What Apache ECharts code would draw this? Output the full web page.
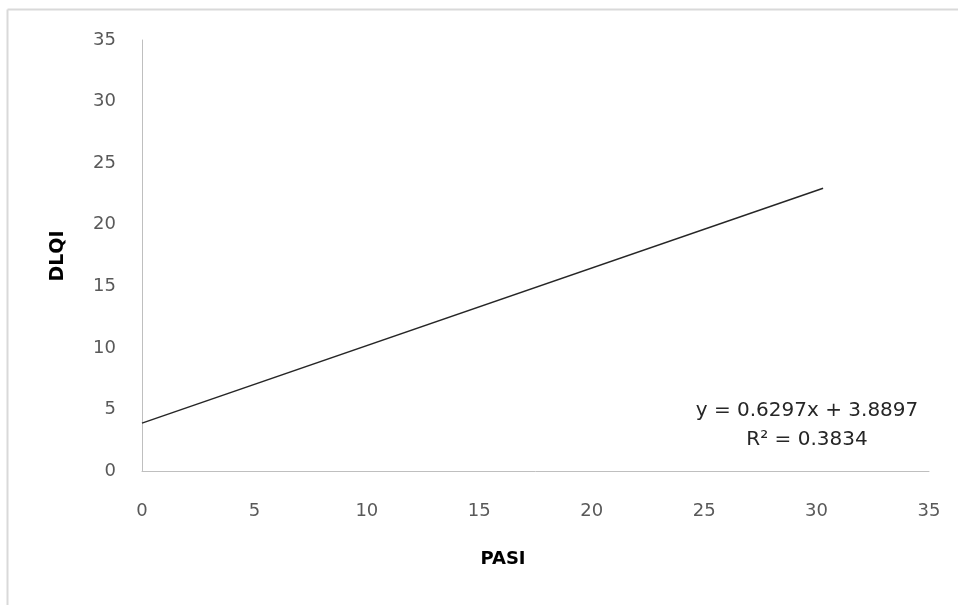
<!DOCTYPE html>
<html>
<head>
<meta charset="utf-8">
<script src="https://cdn.jsdelivr.net/npm/echarts@6/dist/echarts.min.js"></script>
<style>html,body{margin:0;padding:0;background:#fff}#c{width:958px;height:605px}</style>
</head>
<body>
<div id="c"></div>
<script>
const xTicks = [0, 5, 10, 15, 20, 25, 30, 35];
const yTicks = [0, 5, 10, 15, 20, 25, 30, 35];
const lineX = [0, 30.29];
const lineY = [3.8897, 22.96];
const equationText = ['y = 0.6297x + 3.8897', 'R² = 0.3834'];
const xTitle = 'PASI';
const yTitle = 'DLQI';

const font = '"DejaVu Sans", sans-serif';
const chart = echarts.init(document.getElementById('c'), null, {renderer: 'canvas'});
chart.setOption({
  animation: false,
  backgroundColor: '#fff',
  grid: {left: 142, right: 29, top: 40, bottom: 134, containLabel: false},
  xAxis: {
    type: 'value', min: xTicks[0], max: xTicks[xTicks.length - 1], interval: 5,
    axisLine: {show: true, lineStyle: {color: '#bfbfbf', width: 1}},
    axisTick: {show: false},
    splitLine: {show: false},
    axisLabel: {color: '#595959', fontSize: 18, fontFamily: font, margin: 31}
  },
  yAxis: {
    type: 'value', min: yTicks[0], max: yTicks[yTicks.length - 1], interval: 5,
    axisLine: {show: true, lineStyle: {color: '#bfbfbf', width: 1}},
    axisTick: {show: false},
    splitLine: {show: false},
    axisLabel: {color: '#595959', fontSize: 18, fontFamily: font, margin: 26}
  },
  graphic: [
    {type: 'line', shape: {x1: 7.5, y1: 9.5, x2: 958, y2: 9.5}, style: {stroke: '#d9d9d9', lineWidth: 2}, silent: true},
    {type: 'line', shape: {x1: 7.5, y1: 9.5, x2: 7.5, y2: 605}, style: {stroke: '#d9d9d9', lineWidth: 2}, silent: true},
    {type: 'text', x: 503, y: 559, style: {text: xTitle, font: 'bold 18px ' + font, fill: '#000', align: 'center', verticalAlign: 'middle'}},
    {type: 'text', x: 58, y: 256, rotation: Math.PI / 2, style: {text: yTitle, font: 'bold 19px ' + font, fill: '#000', align: 'center', verticalAlign: 'middle'}},
    {type: 'text', x: 807, y: 411, style: {text: equationText[0], font: '20px ' + font, fill: '#262626', align: 'center', verticalAlign: 'middle'}},
    {type: 'text', x: 807, y: 440, style: {text: equationText[1], font: '20px ' + font, fill: '#262626', align: 'center', verticalAlign: 'middle'}}
  ],
  series: [{
    type: 'line',
    data: lineX.map((x, i) => [x, lineY[i]]),
    showSymbol: false,
    lineStyle: {color: '#262626', width: 1.5},
    silent: true
  }]
});
</script>
</body>
</html>
